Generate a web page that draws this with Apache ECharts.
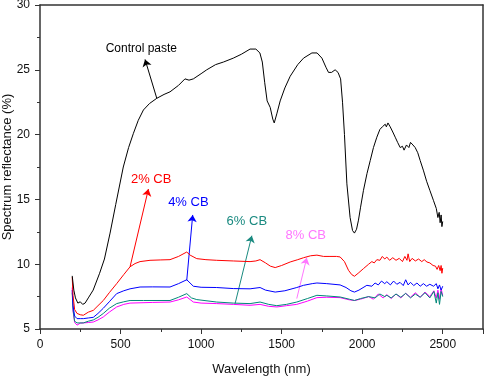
<!DOCTYPE html>
<html>
<head>
<meta charset="utf-8">
<script src="https://cdn.jsdelivr.net/npm/echarts@6/dist/echarts.min.js"></script>
<style>
  html, body { margin: 0; padding: 0; background: #fff; }
  #main { width: 484px; height: 378px; }
</style>
</head>
<body>
<div id="main"></div>
<script>
// [wavelength nm, reflectance %]
var controlPaste = [[200,9.1],[210,8.0],[220,7.4],[235,7.0],[250,7.1],[265,6.9],[280,7.0],[300,7.4],[330,8.0],[370,9.3],[400,10.4],[435,12.4],[470,14.6],[517,17.5],[550,19.0],[580,20.1],[610,21.1],[642,21.9],[680,22.4],[725,22.8],[770,23.1],[807,23.3],[860,23.8],[900,24.3],[925,24.2],[952,24.3],[1000,24.7],[1035,25.0],[1090,25.4],[1139,25.6],[1200,25.9],[1250,26.2],[1304,26.6],[1340,26.6],[1365,26.3],[1380,25.6],[1395,24.0],[1410,22.6],[1429,22.1],[1445,21.2],[1454,20.9],[1470,21.6],[1491,22.6],[1520,23.6],[1553,24.5],[1600,25.4],[1636,25.9],[1688,26.3],[1720,26.3],[1750,25.9],[1775,25.2],[1791,24.8],[1810,24.8],[1832,25.0],[1850,24.8],[1866,24.3],[1878,22.5],[1890,20.0],[1905,16.2],[1925,13.6],[1940,12.6],[1952,12.4],[1965,12.7],[1977,13.4],[1990,14.4],[2008,15.7],[2030,17.0],[2050,18.0],[2070,19.0],[2091,19.8],[2110,20.4],[2125,20.6],[2143,20.8],[2150,20.6],[2160,20.9],[2174,20.6],[2190,20.2],[2205,19.8],[2220,19.4],[2236,19.0],[2250,19.1],[2260,18.8],[2275,19.2],[2290,19.0],[2300,19.4],[2315,19.2],[2329,19.0],[2345,18.6],[2360,18.0],[2381,17.2],[2400,16.4],[2420,15.7],[2443,14.9],[2460,14.3],[2470,13.6],[2478,14.0],[2484,13.2],[2490,13.8],[2495,12.9],[2500,13.3]];
var cb2 = [[200,9.0],[205,7.6],[215,6.5],[230,6.2],[250,6.1],[269,6.06],[300,6.3],[331,6.44],[360,6.8],[393,7.2],[430,7.8],[476,8.5],[520,9.2],[559,9.8],[590,10.05],[621,10.2],[683,10.3],[750,10.33],[807,10.35],[860,10.6],[911,10.94],[932,10.7],[973,10.43],[1030,10.35],[1097,10.3],[1200,10.25],[1304,10.2],[1340,10.25],[1366,10.35],[1400,10.1],[1430,9.85],[1460,9.74],[1500,9.9],[1553,10.17],[1600,10.35],[1636,10.5],[1680,10.65],[1719,10.7],[1760,10.6],[1800,10.6],[1840,10.6],[1863,10.56],[1890,10.2],[1915,9.53],[1935,9.2],[1952,9.07],[1975,9.3],[2008,9.66],[2040,10.0],[2060,10.2],[2075,10.1],[2091,10.35],[2110,10.3],[2125,10.6],[2140,10.4],[2153,10.55],[2170,10.3],[2190,10.5],[2210,10.3],[2230,10.45],[2250,10.2],[2265,10.6],[2278,10.3],[2285,10.8],[2295,10.2],[2310,10.45],[2330,10.25],[2350,10.4],[2370,10.2],[2385,10.35],[2402,10.17],[2420,10.1],[2440,9.9],[2455,9.85],[2465,9.6],[2475,9.9],[2484,9.5],[2490,9.9],[2495,9.3],[2500,9.7]];
var cb4 = [[200,8.0],[205,6.8],[215,6.0],[230,5.8],[250,5.8],[269,5.8],[300,5.85],[331,5.9],[360,6.2],[393,6.6],[430,7.1],[476,7.73],[520,7.95],[559,8.1],[621,8.24],[700,8.25],[807,8.24],[860,8.5],[911,8.8],[952,8.3],[1000,8.22],[1097,8.2],[1200,8.12],[1304,8.1],[1366,8.2],[1400,8.0],[1460,7.85],[1520,7.95],[1594,8.2],[1636,8.37],[1690,8.5],[1719,8.55],[1780,8.5],[1863,8.4],[1900,8.2],[1930,7.95],[1952,7.85],[1980,8.0],[2029,8.37],[2060,8.3],[2080,8.55],[2100,8.4],[2120,8.7],[2140,8.5],[2153,8.65],[2175,8.4],[2195,8.7],[2215,8.45],[2235,8.6],[2255,8.35],[2270,8.8],[2285,8.4],[2300,8.6],[2320,8.35],[2340,8.55],[2360,8.3],[2380,8.5],[2400,8.3],[2420,8.45],[2443,8.3],[2460,8.5],[2470,8.1],[2480,8.4],[2490,8.0],[2500,8.3]];
var cb6 = [[200,7.8],[205,6.5],[215,5.6],[230,5.47],[269,5.47],[300,5.6],[331,5.7],[360,5.9],[393,6.2],[430,6.6],[476,6.96],[520,7.1],[559,7.2],[642,7.2],[807,7.2],[860,7.45],[911,7.73],[940,7.4],[973,7.27],[1097,7.08],[1200,7.0],[1304,6.96],[1366,7.08],[1420,6.9],[1470,6.8],[1530,6.9],[1594,7.08],[1660,7.35],[1719,7.6],[1780,7.55],[1863,7.47],[1920,7.3],[1952,7.2],[1990,7.35],[2040,7.5],[2080,7.4],[2110,7.7],[2140,7.5],[2153,7.6],[2180,7.4],[2210,7.7],[2240,7.45],[2270,7.75],[2300,7.4],[2330,7.7],[2360,7.45],[2390,7.8],[2420,7.4],[2445,7.9],[2460,7.0],[2470,7.8],[2480,6.9],[2490,7.9],[2500,7.5]];
var cb8 = [[200,8.2],[205,6.4],[215,5.5],[230,5.3],[250,5.45],[300,5.5],[331,5.54],[360,5.7],[393,5.93],[430,6.3],[476,6.7],[520,6.9],[559,7.0],[700,7.05],[807,7.08],[860,7.25],[911,7.47],[952,7.08],[1000,7.0],[1097,6.96],[1200,6.9],[1304,6.83],[1366,6.9],[1420,6.75],[1470,6.7],[1530,6.8],[1594,6.9],[1660,7.15],[1719,7.42],[1780,7.45],[1863,7.42],[1920,7.25],[1952,7.2],[1990,7.3],[2040,7.5],[2070,7.3],[2100,7.7],[2130,7.4],[2153,7.65],[2180,7.35],[2210,7.7],[2240,7.4],[2270,7.75],[2300,7.45],[2330,7.8],[2360,7.45],[2390,7.85],[2420,7.5],[2445,7.95],[2460,7.4],[2470,8.0],[2480,7.3],[2490,8.1],[2500,7.6]];

var names = ['Control paste', '2% CB', '4% CB', '6% CB', '8% CB'];
var colors = ['#000000', '#ff0000', '#0000ff', '#008878', '#ff00ff'];
var labelColors = ['#000000', '#ff0000', '#0000ff', '#1a8a80', '#ff77ff'];
var labelSizes = [12, 13, 13, 13, 13];
// arrow from curve point to label, and label position
var arrowFrom = [[725, 22.8], [559, 9.8], [911, 8.76], [1211, 6.96], [1594, 7.35]];
var arrowTo = [[652, 25.8], [673, 15.8], [948, 13.8], [1315, 12.2], [1656, 10.5]];
var labelAt = [[629, 26.6], [690, 16.55], [921, 14.8], [1284, 13.3], [1650, 12.2]];
var allData = [controlPaste, cb2, cb4, cb6, cb8];

var chart = echarts.init(document.getElementById('main'));

var series = allData.map(function (d, i) {
  return {
    name: names[i],
    type: 'line',
    data: d,
    showSymbol: false,
    symbol: 'none',
    lineStyle: { color: colors[i], width: 1 },
    z: 10 - i,
    markLine: {
      silent: true,
      symbol: ['none', 'arrow'],
      symbolSize: 7,
      label: { show: false },
      lineStyle: { color: labelColors[i], width: 1, type: 'solid' },
      data: [[{ coord: arrowFrom[i] }, { coord: arrowTo[i] }]]
    },
    markPoint: {
      silent: true,
      symbol: 'circle',
      symbolSize: 0,
      label: {
        show: true,
        position: 'inside',
        formatter: names[i],
        color: labelColors[i],
        fontSize: labelSizes[i],
        fontFamily: 'Liberation Sans'
      },
      data: [{ coord: labelAt[i] }]
    }
  };
});

var plain = function (v) { return String(v); };

var option = {
  animation: false,
  backgroundColor: '#fff',
  textStyle: { fontFamily: 'Liberation Sans' },
  grid: { left: 40, right: 1, top: 5, bottom: 49, outerBoundsMode: 'none', containLabel: false },
  xAxis: [
    {
      type: 'value',
      min: 0,
      max: 2750,
      interval: 500,
      name: 'Wavelength (nm)',
      nameLocation: 'middle',
      nameGap: 34,
      nameMoveOverlap: false,
      nameTextStyle: { fontSize: 13, color: '#111' },
      axisLine: { show: true, lineStyle: { color: '#333', width: 1.5 } },
      axisTick: { show: true, inside: false, length: 5, lineStyle: { color: '#333' } },
      minorTick: { show: true, splitNumber: 2, length: 3, lineStyle: { color: '#333' } },
      axisLabel: { fontSize: 12, color: '#111', margin: 10, showMaxLabel: false, formatter: plain },
      splitLine: { show: false }
    },
    {
      type: 'value',
      position: 'top',
      min: 0,
      max: 2750,
      axisLine: { show: true, onZero: false, lineStyle: { color: '#333', width: 1.5 } },
      axisTick: { show: false },
      axisLabel: { show: false },
      splitLine: { show: false }
    }
  ],
  yAxis: [
    {
      type: 'value',
      min: 5,
      max: 30,
      interval: 5,
      name: 'Spectrum reflectance (%)',
      nameLocation: 'middle',
      nameGap: 26,
      nameMoveOverlap: false,
      nameTextStyle: { fontSize: 13, color: '#111' },
      axisLine: { show: true, lineStyle: { color: '#333', width: 1.5 } },
      axisTick: { show: true, inside: false, length: 5, lineStyle: { color: '#333' } },
      minorTick: { show: true, splitNumber: 2, length: 3, lineStyle: { color: '#333' } },
      axisLabel: { fontSize: 12, color: '#111', margin: 10, formatter: plain },
      splitLine: { show: false }
    },
    {
      type: 'value',
      position: 'right',
      min: 5,
      max: 30,
      axisLine: { show: true, onZero: false, lineStyle: { color: '#333', width: 1.5 } },
      axisTick: { show: false },
      axisLabel: { show: false },
      splitLine: { show: false }
    }
  ],
  series: series
};

chart.setOption(option);
</script>
</body>
</html>
